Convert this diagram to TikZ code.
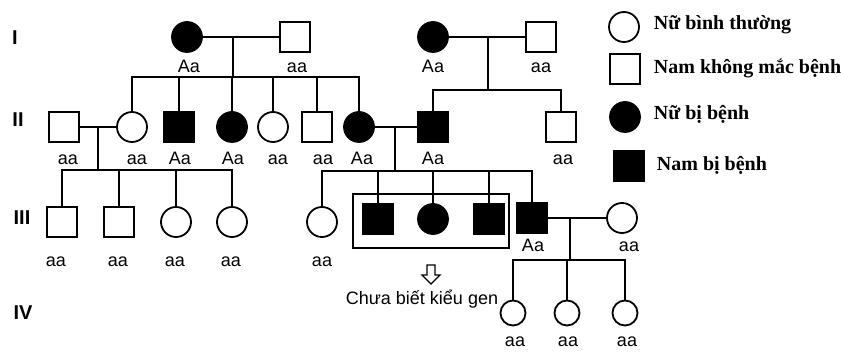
\documentclass[tikz,border=0pt]{standalone}
\usepackage{fontspec}
\setmainfont{Liberation Sans}
\newfontfamily\legfont{Liberation Serif}
\begin{document}
\begin{tikzpicture}[x=1pt,y=-1pt,
  line width=1.8pt,
  ind/.style={draw=black, line width=1.8pt, minimum size=30pt, inner sep=0pt, outer sep=0pt},
  male/.style={ind, rectangle},
  female/.style={ind, circle},
  small/.style={minimum size=25pt},
  aff/.style={fill=black},
  lab/.style={font=\fontsize{18}{20}\selectfont, anchor=base, inner sep=0pt},
  gen/.style={font=\bfseries\fontsize{20}{22}\selectfont, inner sep=0pt},
  leg/.style={font=\legfont\bfseries\fontsize{20}{22}\selectfont, anchor=base west, inner sep=0pt}]
\useasboundingbox (0,0) rectangle (841,352);

% generation labels
\node[gen] (gI) at (15,38) {I};
\node[gen] (gII) at (18,120) {II};
\node[gen] (gIII) at (22,218) {III};
\node[gen] (gIV) at (23,313) {IV};

% Generation I
\node[female,aff] (I1) at (187,37) {};
\node[male] (I2) at (295,37) {};
\node[female,aff] (I3) at (433,37) {};
\node[male] (I4) at (541,37) {};
\node[lab] (lI1) at (189,73) {Aa};
\node[lab] (lI2) at (297,73) {aa};
\node[lab] (lI3) at (433,73) {Aa};
\node[lab] (lI4) at (541,73) {aa};

% Generation II
\node[male] (II1) at (64,127) {};
\node[female] (II2) at (132,127) {};
\node[male,aff] (II3) at (179,127) {};
\node[female,aff] (II4) at (232,127) {};
\node[female] (II5) at (273,127) {};
\node[male] (II6) at (317,127) {};
\node[female,aff] (II7) at (359,127) {};
\node[male,aff] (II8) at (433,127) {};
\node[male] (II9) at (561,127) {};
\node[lab] (lII1) at (68,165) {aa};
\node[lab] (lII2) at (137,165) {aa};
\node[lab] (lII3) at (180,165) {Aa};
\node[lab] (lII4) at (233,165) {Aa};
\node[lab] (lII5) at (278,165) {aa};
\node[lab] (lII6) at (323,165) {aa};
\node[lab] (lII7) at (362,165) {Aa};
\node[lab] (lII8) at (433,165) {Aa};
\node[lab] (lII9) at (563,165) {aa};

% Generation III
\node[male] (III1) at (62,222) {};
\node[male] (III2) at (119,222) {};
\node[female] (III3) at (176,222) {};
\node[female] (III4) at (232,222) {};
\node[female] (III5) at (322,222) {};
\node[male,aff] (III6) at (378,219) {};
\node[female,aff] (III7) at (433,219) {};
\node[male,aff] (III8) at (489,219) {};
\node[male,aff] (III9) at (532,218) {};
\node[female] (III10) at (622,218) {};
\node[lab] (lIII1) at (56,267) {aa};
\node[lab] (lIII2) at (118,267) {aa};
\node[lab] (lIII3) at (175,267) {aa};
\node[lab] (lIII4) at (231,267) {aa};
\node[lab] (lIII5) at (322,267) {aa};
\node[lab] (lIII9) at (533,252) {Aa};
\node[lab] (lIII10) at (629,252) {aa};

% Generation IV
\node[female,small] (IV1) at (513,313) {};
\node[female,small] (IV2) at (567,313) {};
\node[female,small] (IV3) at (625,313) {};
\node[lab] (lIV1) at (515,347) {aa};
\node[lab] (lIV2) at (568,347) {aa};
\node[lab] (lIV3) at (627,347) {aa};

% unknown-genotype box, arrow and note
\node[draw=black, line width=1.8pt, minimum width=156pt, minimum height=54pt, inner sep=0pt] (box) at (431,221) {};
\draw[line width=1.4pt, line join=miter]
  (427,265) -- (435,265) -- (435,275) -- (440,275) -- (431,284) -- (422,275) -- (427,275) -- cycle;
\node[lab] (note) at (422,305) {Chưa biết kiểu gen};

% marriages and descent lines
\draw (I1) -- (I2);
\coordinate (m1) at (233,37);
\coordinate (s1) at (233,77);
\draw (m1) -- (s1);
\draw (II2.north) -- (II2.north |- s1) -- (II7.north |- s1) -- (II7.north);
\foreach \c in {II3,II4,II5,II6} \draw (\c.north) -- (\c.north |- s1);

\draw (I3) -- (I4);
\coordinate (m2) at (488,37);
\coordinate (s2) at (488,90);
\draw (m2) -- (s2);
\draw (II8.north) -- (II8.north |- s2) -- (II9.north |- s2) -- (II9.north);

\draw (II1) -- (II2);
\coordinate (m3) at (98,127);
\coordinate (s3) at (98,170);
\draw (m3) -- (s3);
\draw (III1.north) -- (III1.north |- s3) -- (III4.north |- s3) -- (III4.north);
\foreach \c in {III2,III3} \draw (\c.north) -- (\c.north |- s3);

\draw (II7) -- (II8);
\coordinate (m4) at (395,127);
\coordinate (s4) at (395,171);
\draw (m4) -- (s4);
\draw (III5.north) -- (III5.north |- s4) -- (III9.north |- s4) -- (III9.north);
\foreach \c in {III6,III7,III8} \draw (\c.north) -- (\c.north |- s4);

\draw (III9) -- (III10);
\coordinate (m5) at (570,218);
\coordinate (s5) at (570,260);
\draw (m5) -- (s5);
\draw (IV1.north) -- (IV1.north |- s5) -- (IV3.north |- s5) -- (IV3.north);
\draw (IV2.north) -- (IV2.north |- s5);

% legend
\node[female] (k1) at (624,27) {};
\node[male] (k2) at (625,69) {};
\node[female,aff] (k3) at (625,117) {};
\node[male,aff] (k4) at (629,166) {};
\node[leg] (t1) at (653,30) {Nữ bình thường};
\node[leg] (t2) at (653,74) {Nam không mắc bệnh};
\node[leg] (t3) at (653,120) {Nữ bị bệnh};
\node[leg] (t4) at (656,171) {Nam bị bệnh};
\end{tikzpicture}
\end{document}
